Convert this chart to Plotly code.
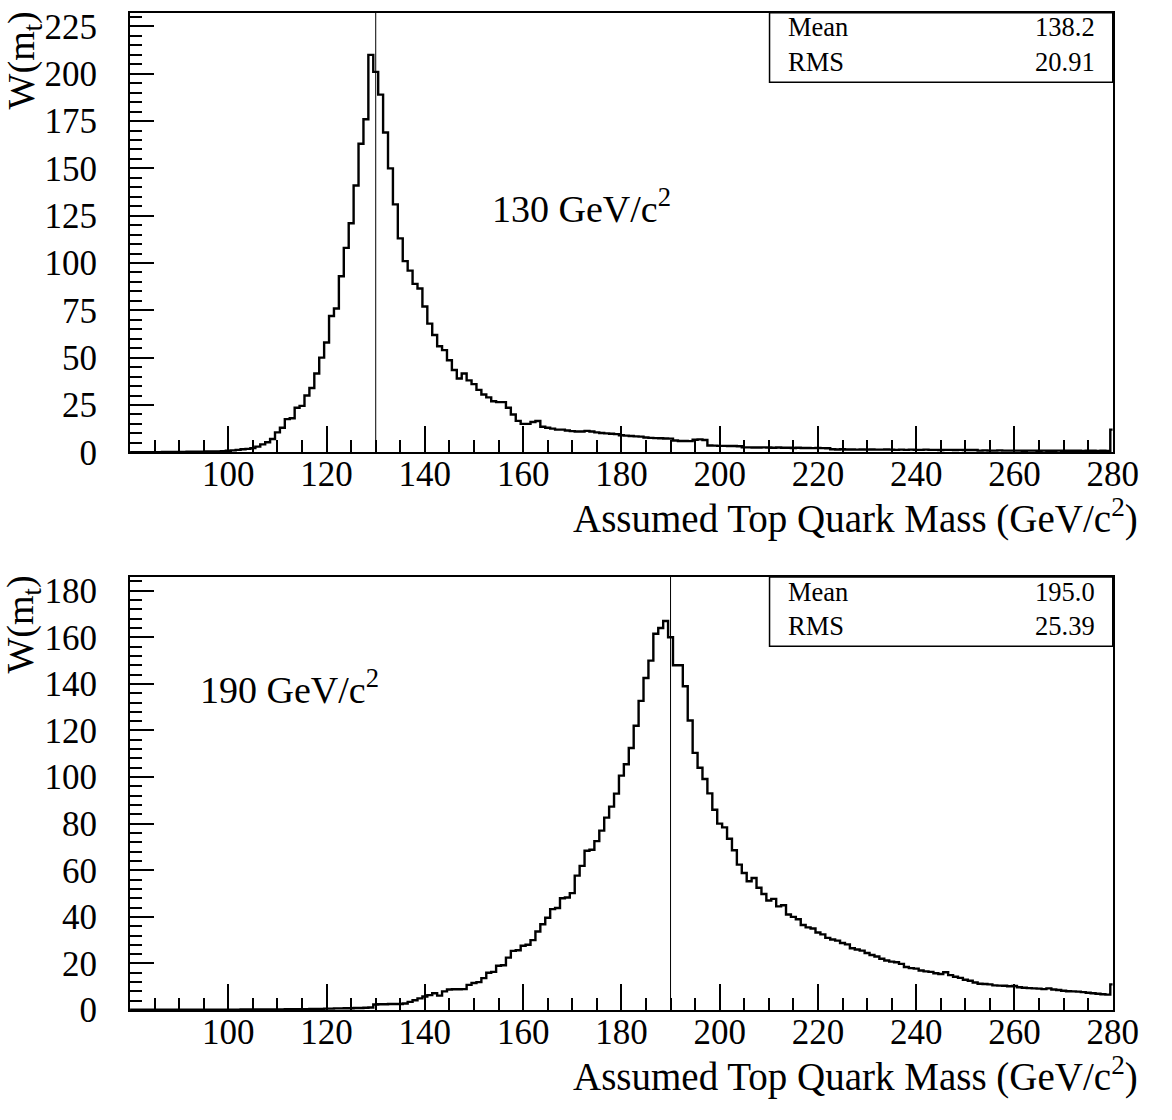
import numpy as np
import plotly.graph_objects as go

# Assumed top-quark mass scan points (1 GeV/c^2 bins centred on integers)
masses = np.arange(80, 281)

# W(m_t) for the 130 GeV/c^2 sample
w_130 = [
    0.1, 0.1, 0.1, 0.1, 0.1, 0.1, 0.1, 0.2, 0.2, 0.2,          # 80
    0.2, 0.2, 0.3, 0.3, 0.3, 0.3, 0.4, 0.4, 0.5, 0.6,          # 90
    0.8, 1.0, 1.3, 1.6, 1.8, 2.2, 3.0, 4.2, 5.3, 7.0,          # 100
    10.5, 13.0, 17.5, 18.0, 23.5, 24.5, 30.0, 34.0, 41.6, 50.0,  # 110
    58.0, 72.0, 76.0, 93.0, 108.0, 121.0, 141.0, 163.0, 176.0, 210.0,  # 120
    201.0, 189.0, 169.0, 150.0, 131.0, 113.0, 101.0, 96.0, 89.0, 86.5,  # 130
    77.0, 68.0, 62.0, 56.0, 54.0, 48.6, 43.5, 39.0, 41.6, 38.0,  # 140
    36.0, 33.0, 30.5, 29.0, 27.0, 26.5, 26.5, 23.5, 20.0, 16.6,  # 150
    15.0, 15.0, 16.0, 16.5, 13.5, 13.0, 12.5, 12.0, 12.0, 11.5,  # 160
    11.2, 11.0, 11.0, 11.3, 11.0, 10.5, 10.2, 10.0, 9.8, 9.6,    # 170
    9.0, 8.8, 8.6, 8.4, 8.3, 7.8, 7.6, 7.5, 7.4, 7.3,           # 180
    7.2, 6.2, 6.0, 6.0, 5.9, 6.6, 6.8, 6.5, 3.6, 3.5,           # 190
    3.4, 3.4, 3.3, 3.3, 3.2, 2.6, 2.6, 2.5, 2.5, 2.6,           # 200
    2.5, 2.4, 2.5, 2.4, 2.4, 2.3, 2.4, 2.3, 2.3, 2.2,           # 210
    2.3, 2.2, 2.1, 1.6, 1.5, 1.6, 1.5, 1.5, 1.4, 1.5,           # 220
    1.4, 1.5, 1.4, 1.4, 1.5, 1.4, 1.3, 1.4, 1.3, 1.4,           # 230
    1.3, 1.3, 1.4, 1.3, 1.3, 1.2, 1.3, 1.3, 1.2, 1.3,           # 240
    1.2, 1.2, 1.2, 0.9, 1.0, 0.9, 0.9, 1.0, 0.9, 0.9,           # 250
    0.9, 0.9, 0.8, 0.9, 0.9, 0.8, 0.9, 0.8, 0.8, 0.9,           # 260
    0.8, 0.8, 0.8, 0.8, 0.7, 0.8, 0.8, 0.7, 0.8, 0.7,           # 270
    12.0,                                                       # 280
]

# W(m_t) for the 190 GeV/c^2 sample
w_190 = [
    0.1, 0.1, 0.1, 0.1, 0.1, 0.1, 0.1, 0.1, 0.1, 0.1,           # 80
    0.1, 0.1, 0.1, 0.1, 0.2, 0.2, 0.2, 0.2, 0.2, 0.2,           # 90
    0.2, 0.2, 0.2, 0.3, 0.3, 0.3, 0.3, 0.3, 0.3, 0.3,           # 100
    0.3, 0.3, 0.4, 0.4, 0.4, 0.4, 0.4, 0.5, 0.5, 0.5,           # 110
    0.6, 0.6, 0.7, 0.7, 0.8, 0.8, 0.9, 0.9, 1.0, 1.1,           # 120
    2.4, 2.5, 2.5, 2.6, 2.6, 2.6, 2.8, 3.5, 4.2, 5.0,           # 130
    5.8, 6.4, 7.2, 6.2, 8.0, 8.8, 8.9, 8.9, 9.0, 10.8,          # 140
    11.6, 12.0, 13.7, 16.0, 16.4, 19.0, 19.2, 22.5, 25.4, 25.7,  # 150
    27.6, 28.0, 30.0, 33.7, 36.8, 39.6, 43.3, 43.8, 48.0, 48.3,  # 160
    50.2, 57.7, 61.9, 68.4, 68.8, 72.5, 77.0, 82.6, 87.3, 92.9,  # 170
    100.6, 105.5, 112.5, 122.0, 132.7, 142.5, 150.0, 161.5, 164.0, 167.0,  # 180
    160.0, 148.0, 148.0, 139.0, 124.3, 110.4, 104.0, 99.2, 93.0, 86.0,    # 190
    80.0, 78.4, 73.5, 68.6, 62.4, 58.8, 55.3, 56.7, 52.5, 49.8,  # 200
    47.0, 47.7, 44.5, 45.0, 41.0, 40.0, 39.0, 36.5, 35.5, 35.0,  # 210
    33.3, 32.5, 31.0, 30.3, 29.8, 28.8, 28.2, 26.5, 26.0, 25.5,  # 220
    24.5, 23.6, 23.0, 22.0, 21.3, 20.8, 20.5, 19.8, 18.5, 18.0,  # 230
    17.8, 17.0, 16.6, 16.4, 15.8, 15.5, 16.2, 15.0, 14.3, 13.8,  # 240
    13.0, 12.6, 11.8, 11.3, 11.2, 11.0, 10.6, 10.5, 10.4, 10.2,  # 250
    10.3, 9.8, 9.6, 9.4, 9.3, 9.2, 9.0, 9.3, 8.8, 8.6,          # 260
    8.3, 8.1, 8.0, 7.9, 7.7, 7.4, 7.2, 7.0, 6.8, 6.6,           # 270
    11.0,                                                       # 280
]

true_mass = [130, 190]
sample_labels = ["130 GeV/c<sup>2</sup>", "190 GeV/c<sup>2</sup>"]
stat_mean = ["138.2", "195.0"]
stat_rms = ["20.91", "25.39"]
x_ticks = list(range(100, 281, 20))

W, H = 1172, 1120
FONT = "Liberation Serif"


def px(x):
    return x / W


def py(y):
    return 1 - y / H


def txt(size):
    return dict(family=FONT, size=size, color="black")


fig = go.Figure()

panels = [
    # frame in pixels: left, right, top, bottom ; y range, major/minor step
    dict(frame=(133, 1138, 8, 457.5), yr=232.2, dt=25, mdt=5),
    dict(frame=(133, 1138, 585, 1028), yr=185.9, dt=20, mdt=4),
]
series = [w_130, w_190]

for i, (p, vals) in enumerate(zip(panels, series)):
    n = "" if i == 0 else str(i + 1)
    l, r, t, b = p["frame"]
    fig.add_trace(go.Scatter(
        x=masses, y=vals, mode="lines", line_shape="hvh",
        line=dict(color="black", width=2.4), xaxis="x" + n, yaxis="y" + n,
        showlegend=False, hoverinfo="skip",
    ))
    common = dict(showline=True, linecolor="black", linewidth=2, mirror=True,
                  showgrid=False, zeroline=False, ticks="inside",
                  tickcolor="black", tickwidth=1.5, tickfont=txt(35))
    fig.layout["xaxis" + n] = dict(
        domain=[px(l), px(r)], range=[80, 280], anchor="y" + n,
        tickmode="array", tickvals=x_ticks, ticklen=26,
        ticklabelstandoff=-10,
        minor=dict(tickmode="linear", tick0=80, dtick=5, ticks="inside",
                   ticklen=12, tickwidth=1.5, tickcolor="black"),
        **common)
    fig.layout["yaxis" + n] = dict(
        domain=[py(b), py(t)], range=[0, p["yr"]], anchor="x" + n,
        tickmode="linear", tick0=0, dtick=p["dt"], ticklen=24,
        ticklabelstandoff=24,
        minor=dict(tickmode="linear", tick0=0, dtick=p["mdt"], ticks="inside",
                   ticklen=12, tickwidth=1.5, tickcolor="black"),
        **common)

    # generated-mass marker
    fig.add_shape(type="line", xref="x" + n, yref="y" + n + " domain",
                  x0=true_mass[i], x1=true_mass[i], y0=0, y1=1,
                  line=dict(color="black", width=1))

    # statistics box
    fig.add_shape(type="rect", xref="paper", yref="paper",
                  x0=px(787), x1=px(r), y0=py(t + 71), y1=py(t),
                  line=dict(color="black", width=1.5), fillcolor="white")
    for label, val, dy in [("Mean", stat_mean[i], 15), ("RMS", stat_rms[i], 50)]:
        fig.add_annotation(x=px(804), y=py(t + dy), xref="paper", yref="paper",
                           text=label, showarrow=False, xanchor="left",
                           yanchor="middle", font=txt(26.5))
        fig.add_annotation(x=px(1122), y=py(t + dy), xref="paper", yref="paper",
                           text=val, showarrow=False, xanchor="right",
                           yanchor="middle", font=txt(26.5))

    # axis titles
    fig.add_annotation(x=px(1166), y=py(b + 66), xref="paper", yref="paper",
                       text="Assumed Top Quark Mass (GeV/c<sup>2</sup>)",
                       showarrow=False, xanchor="right", yanchor="middle",
                       font=txt(39))
    fig.add_annotation(x=px(24), y=py(t - 4), xref="paper", yref="paper",
                       text="W(m<sub>t</sub>)", textangle=-90,
                       showarrow=False, xanchor="center", yanchor="top",
                       font=txt(38))

# sample labels
fig.add_annotation(x=px(501), y=py(206), xref="paper", yref="paper",
                   text=sample_labels[0], showarrow=False, xanchor="left",
                   yanchor="middle", font=txt(38))
fig.add_annotation(x=px(202), y=py(698), xref="paper", yref="paper",
                   text=sample_labels[1], showarrow=False, xanchor="left",
                   yanchor="middle", font=txt(38))

fig.update_layout(width=W, height=H, margin=dict(l=0, r=0, t=0, b=0),
                  paper_bgcolor="white", plot_bgcolor="white")

fig.write_html("out.html")
